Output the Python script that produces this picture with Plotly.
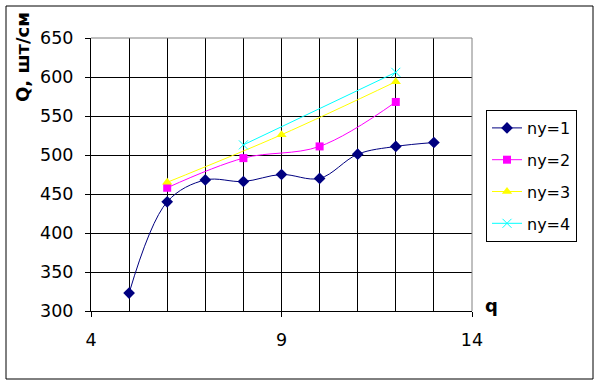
import plotly.graph_objects as go

# Data
x1 = [5, 6, 7, 8, 9, 10, 11, 12, 13]
y1 = [323, 440, 468, 466, 475, 470, 501, 511, 516]
x2 = [6, 8, 10, 12]
y2 = [458, 496, 511, 568]
x3 = [6, 9, 12]
y3 = [465, 526, 594]
x4 = [8, 12]
y4 = [513, 606]
names = ["ny=1", "ny=2", "ny=3", "ny=4"]

W, H = 601, 386
L, R, T, B = 91, 472, 38, 311
pw, ph = R - L, B - T

FAM = "DejaVu Sans, Verdana, sans-serif"

fig = go.Figure()
fig.add_trace(go.Scatter(x=x1, y=y1, name=names[0], legendgroup="g1", mode="lines+markers",
                         line=dict(color="#000080", width=1, shape="spline", smoothing=1),
                         marker=dict(symbol="diamond", size=9, color="#000080")))
fig.add_trace(go.Scatter(x=x2, y=y2, name=names[1], legendgroup="g2", mode="lines+markers",
                         line=dict(color="#FF00FF", width=1, shape="spline", smoothing=1),
                         marker=dict(symbol="square", size=8, color="#FF00FF")))
fig.add_trace(go.Scatter(x=x3, y=y3, name=names[2], legendgroup="g3", mode="lines+markers",
                         line=dict(color="#FFFF00", width=1, shape="spline", smoothing=1),
                         marker=dict(symbol="triangle-up", size=9, color="#FFFF00")))
fig.add_trace(go.Scatter(x=x4, y=y4, name=names[3], legendgroup="g4", mode="lines+markers",
                         line=dict(color="#00FFFF", width=1),
                         marker=dict(symbol="x-thin", size=9, color="#00FFFF",
                                     line=dict(color="#00FFFF", width=1))))

tickfont = dict(family=FAM, size=17.5, color="black")

def px(xp):
    return (xp - L) / pw

def py(yp):
    return (B - yp) / ph

fig.update_layout(
    width=W, height=H,
    margin=dict(l=L, r=W - R, t=T, b=H - B, autoexpand=False),
    paper_bgcolor="white", plot_bgcolor="white",
    font=dict(family=FAM, size=16, color="black"),
    showlegend=True,
    legend=dict(x=px(486), y=py(110), xanchor="left", yanchor="top",
                bordercolor="black", borderwidth=1, bgcolor="white",
                font=dict(family=FAM, size=16, color="black"),
                tracegroupgap=8),
    xaxis=dict(range=[4, 14], tick0=4, dtick=5, ticks="outside", ticklen=5,
               tickcolor="black", showgrid=True, gridcolor="black", gridwidth=1,
               minor=dict(dtick=1, tick0=4, showgrid=True, gridcolor="black", gridwidth=1, ticks=""),
               showline=True, linecolor="black", linewidth=1, zeroline=False,
               tickfont=tickfont, ticklabelstandoff=8),
    yaxis=dict(range=[300, 650], tick0=300, dtick=50, ticks="outside", ticklen=5,
               tickcolor="black", showgrid=True, gridcolor="black", gridwidth=1,
               showline=True, linecolor="black", linewidth=1, zeroline=False,
               tickfont=tickfont, ticklabelstandoff=8),
    shapes=[
        dict(type="rect", xref="paper", yref="paper",
             x0=px(6), x1=px(593), y0=py(379), y1=py(6),
             line=dict(color="black", width=1), fillcolor="rgba(0,0,0,0)", layer="below"),
        dict(type="line", xref="paper", yref="paper", x0=0, x1=1, y0=1, y1=1,
             line=dict(color="#808080", width=1)),
        dict(type="line", xref="paper", yref="paper", x0=1, x1=1, y0=0, y1=1,
             line=dict(color="#808080", width=1)),
    ],
    annotations=[
        dict(text="<b>Q, шт/см</b>", xref="paper", yref="paper",
             x=px(23), y=py(57), textangle=-90, showarrow=False,
             font=dict(family=FAM, size=18, color="black"),
             xanchor="center", yanchor="middle"),
        dict(text="<b>q</b>", xref="paper", yref="paper",
             x=px(491), y=py(305), showarrow=False,
             font=dict(family=FAM, size=18, color="black"),
             xanchor="center", yanchor="middle"),
    ],
)

fig.write_html("out.html", config={"displayModeBar": False},
               post_script="document.body.style.margin='0';document.body.style.padding='0';")
